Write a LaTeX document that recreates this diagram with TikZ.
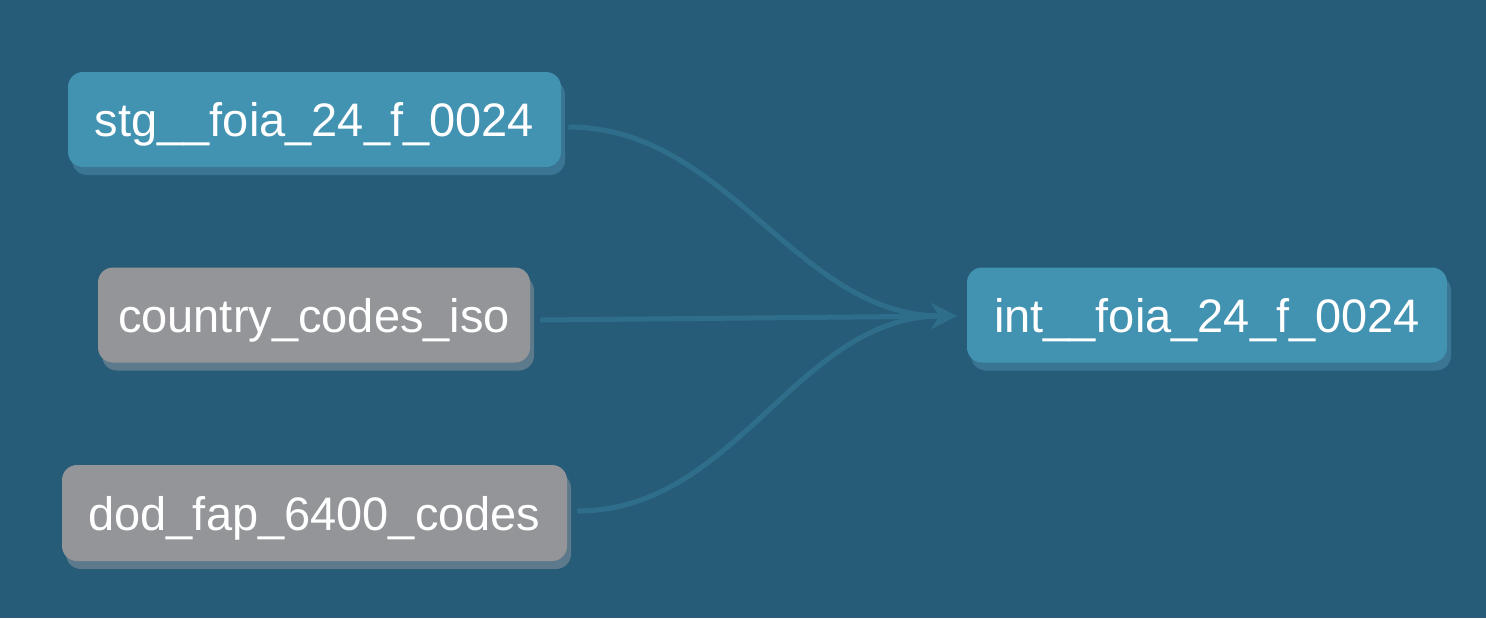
\documentclass[tikz,border=0pt]{standalone}
\usepackage{fontspec}
\setmainfont{Liberation Sans}
\usepackage{tikz}
\usetikzlibrary{arrows.meta,shadows}

\definecolor{dagbg}{HTML}{275C78}
\definecolor{dagedge}{HTML}{2F6E8A}
\definecolor{modelblue}{HTML}{4292B1}
\definecolor{modelblueshadow}{HTML}{3A7593}
\definecolor{sourcegray}{HTML}{939599}
\definecolor{sourcegrayshadow}{HTML}{5C7A8B}

\begin{document}
\begin{tikzpicture}[
  x=0.5pt,y=-0.5pt,
  box/.style={rounded corners=7.5pt,minimum height=47.5pt,inner sep=0pt,
    text height=17pt,text depth=0pt,
    text=white,font=\fontsize{23.5}{28}\selectfont},
  model/.style={box,fill=modelblue,
    drop shadow={shadow xshift=2pt,shadow yshift=-4pt,fill=modelblueshadow,opacity=1}},
  source/.style={box,fill=sourcegray,
    drop shadow={shadow xshift=2pt,shadow yshift=-4pt,fill=sourcegrayshadow,opacity=1}},
  arrow/.style={-{Stealth[length=12.5pt,width=12.5pt,inset=4pt]},line width=2.5pt,
    dagedge},
]
  \fill[dagbg] (0,0) rectangle (1486,618);
  \useasboundingbox (0,0) rectangle (1486,618);

  \node[model,minimum width=246.5pt] (stg) at (314.5,119.5) {stg\_\_foia\_24\_f\_0024};
  \node[source,minimum width=216pt] (country) at (314,315) {country\_codes\_iso};
  \node[source,minimum width=252.5pt,minimum height=48pt] (dod) at (314.5,513) {dod\_fap\_6400\_codes};
  \node[model,minimum width=240pt] (int) at (1207,315) {int\_\_foia\_24\_f\_0024};

  \draw[arrow] ([shift={(7,7.5)}]stg.east) .. controls +(160,0) and +(-160,0) .. ([shift={(-10,1)}]int.west);
  \draw[arrow] ([shift={(10,5)}]country.east) -- ([shift={(-10,1)}]int.west);
  \draw[arrow] ([shift={(10,-2)}]dod.east) .. controls +(160,0) and +(-160,0) .. ([shift={(-10,1)}]int.west);
\end{tikzpicture}
\end{document}
